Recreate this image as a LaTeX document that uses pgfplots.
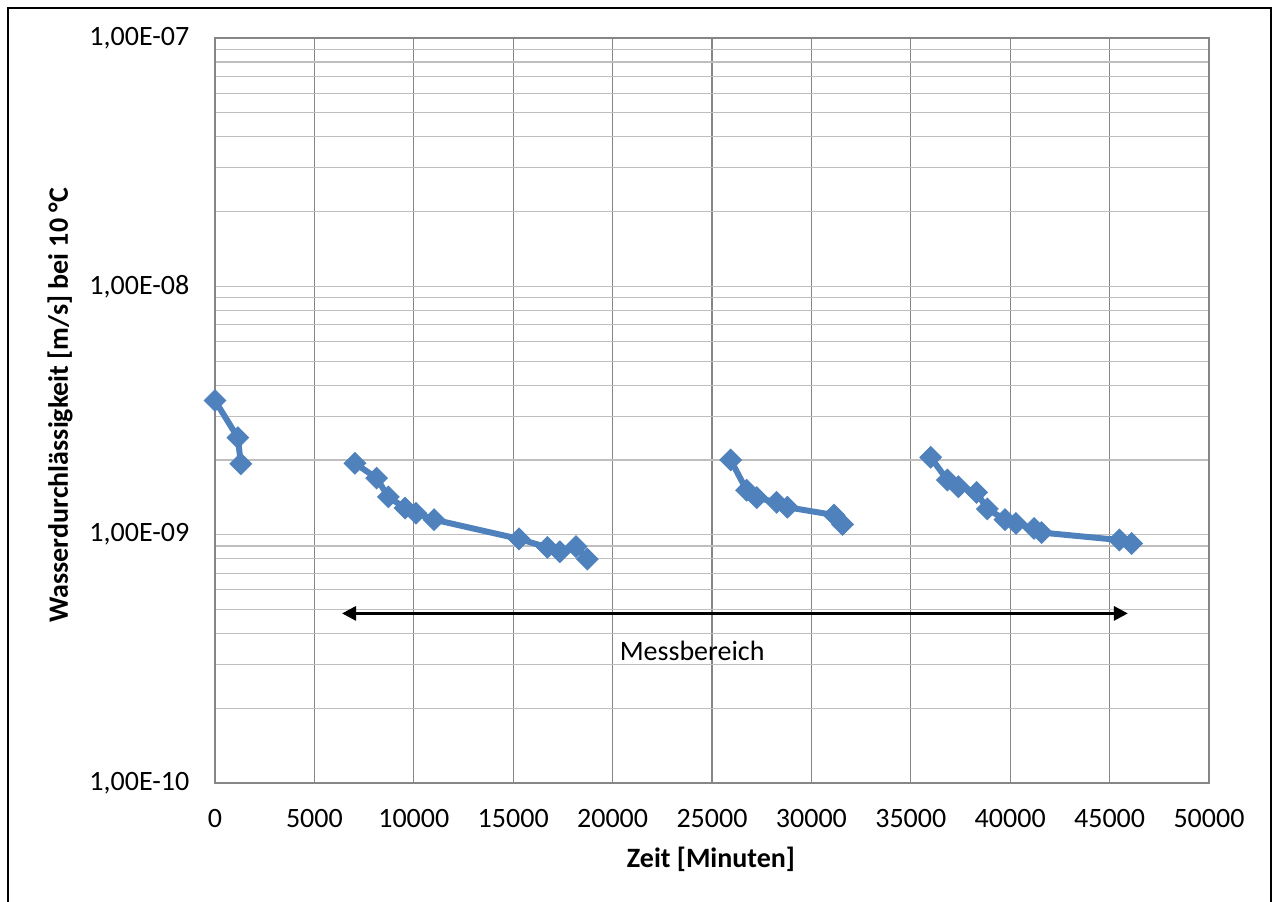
\documentclass[border=0pt]{standalone}
\usepackage{pgfplots}
\pgfplotsset{compat=1.18}
\usepackage{fontspec}
\setmainfont{Carlito}
\usetikzlibrary{arrows.meta}
\definecolor{serblue}{RGB}{79,129,189}
\definecolor{vgrid}{RGB}{134,134,134}
\definecolor{hgrid}{RGB}{190,190,190}
\pgfplotsset{ser/.style={serblue, line width=3pt, mark=square*, mark size=3.8pt, mark options={serblue, fill=serblue, line width=0.5pt, solid, rotate=45}}}
\begin{document}
\fontsize{14}{17}\selectfont
\begin{tikzpicture}
\useasboundingbox (-107.5pt,-59pt) rectangle (529.5pt,391.5pt);
\draw[line width=1pt,black] (-103.5pt,-80pt) rectangle (528pt,387.5pt);
\begin{axis}[
  at={(0,0)}, anchor=south west,
  scale only axis, width=497pt, height=372.5pt,
  ymode=log,
  xmin=0, xmax=50000, ymin=1e-10, ymax=1e-7,
  xtick={0,5000,...,50000},
  scaled x ticks=false,
  xticklabels={0,5000,10000,15000,20000,25000,30000,35000,40000,45000,50000},
  ytick={1e-10,1e-9,1e-8,1e-7},
  yticklabels={{1,00E-10},{1,00E-09},{1,00E-08},{1,00E-07}},
  minor ytick={2e-10,3e-10,4e-10,5e-10,6e-10,7e-10,8e-10,9e-10,
               2e-9,3e-9,4e-9,5e-9,6e-9,7e-9,8e-9,9e-9,
               2e-8,3e-8,4e-8,5e-8,6e-8,7e-8,8e-8,9e-8},
  major tick length=0pt, minor tick length=0pt,
  xmajorgrids=true, ymajorgrids=true, yminorgrids=true,
  x grid style={vgrid, line width=0.6pt},
  y grid style={hgrid, line width=0.6pt},
  minor y grid style={hgrid, line width=0.6pt},
  axis line style={vgrid, line width=0.6pt},
  yticklabel style={anchor=east, xshift=-8pt},
  xticklabel style={anchor=north, yshift=-8.5pt},
  xlabel={\textbf{Zeit [Minuten]}},
  ylabel={\textbf{Wasserdurchlässigkeit [m/s] bei 10 °C}},
  xlabel style={at={(axis description cs:0.499,-0.102)}, anchor=center},
  ylabel style={at={(axis description cs:-0.156,0.507)}, anchor=center},
  clip=false,
]
\addplot[ser] coordinates {(0,3.47e-9) (1150,2.46e-9) (1300,1.93e-9)};
\addplot[ser] coordinates {(7040,1.94e-9) (8130,1.69e-9) (8720,1.42e-9) (9560,1.28e-9) (10110,1.22e-9) (11020,1.15e-9) (15290,0.962e-9) (16720,0.889e-9) (17350,0.854e-9) (18160,0.895e-9) (18730,0.798e-9)};
\addplot[ser] coordinates {(25940,2.00e-9) (26740,1.51e-9) (27250,1.41e-9) (28250,1.35e-9) (28790,1.29e-9) (31140,1.20e-9) (31570,1.10e-9)};
\addplot[ser] coordinates {(36000,2.05e-9) (36840,1.66e-9) (37390,1.56e-9) (38310,1.48e-9) (38850,1.27e-9) (39740,1.15e-9) (40290,1.11e-9) (41200,1.06e-9) (41580,1.02e-9) (45490,0.952e-9) (46110,0.922e-9)};
\draw[black, line width=1.5pt, {Triangle[length=7pt,width=7pt]}-{Triangle[length=7pt,width=7pt]}] (axis cs:6390,4.82e-10) -- (axis cs:45920,4.82e-10);
\node[anchor=center] at (axis cs:24000,3.40e-10) {Messbereich};
\end{axis}
\end{tikzpicture}
\end{document}
